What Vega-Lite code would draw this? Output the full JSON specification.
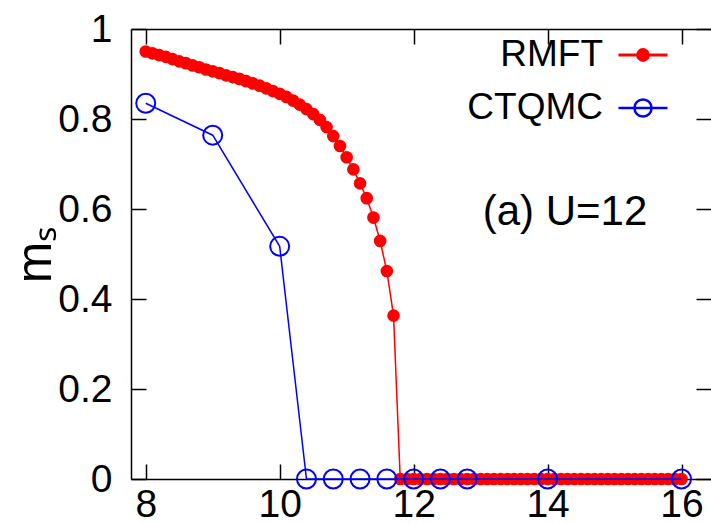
{
  "$schema": "https://vega.github.io/schema/vega-lite/v6.json",
  "width": 580,
  "height": 450,
  "autosize": {"type": "none"},
  "padding": {"left": 131, "top": 29, "right": 0, "bottom": 44},
  "background": "white",
  "config": {
    "view": {"stroke": null},
    "font": "Liberation Sans",
    "axis": {
      "domainColor": "black",
      "domainWidth": 1.5,
      "tickColor": "black",
      "tickWidth": 1.5,
      "tickSize": -15,
      "grid": false,
      "labelFont": "Liberation Sans",
      "labelFontSize": 39,
      "labelColor": "black",
      "zindex": 1
    }
  },
  "datasets": {
    "d": [
      {"series": "RMFT", "x": 8.0, "ms": 0.950},
      {"series": "RMFT", "x": 8.1, "ms": 0.946},
      {"series": "RMFT", "x": 8.2, "ms": 0.942},
      {"series": "RMFT", "x": 8.3, "ms": 0.938},
      {"series": "RMFT", "x": 8.4, "ms": 0.933},
      {"series": "RMFT", "x": 8.5, "ms": 0.928},
      {"series": "RMFT", "x": 8.6, "ms": 0.924},
      {"series": "RMFT", "x": 8.7, "ms": 0.919},
      {"series": "RMFT", "x": 8.8, "ms": 0.915},
      {"series": "RMFT", "x": 8.9, "ms": 0.910},
      {"series": "RMFT", "x": 9.0, "ms": 0.906},
      {"series": "RMFT", "x": 9.1, "ms": 0.902},
      {"series": "RMFT", "x": 9.2, "ms": 0.897},
      {"series": "RMFT", "x": 9.3, "ms": 0.893},
      {"series": "RMFT", "x": 9.4, "ms": 0.889},
      {"series": "RMFT", "x": 9.5, "ms": 0.884},
      {"series": "RMFT", "x": 9.6, "ms": 0.879},
      {"series": "RMFT", "x": 9.7, "ms": 0.874},
      {"series": "RMFT", "x": 9.8, "ms": 0.868},
      {"series": "RMFT", "x": 9.9, "ms": 0.862},
      {"series": "RMFT", "x": 10.0, "ms": 0.856},
      {"series": "RMFT", "x": 10.1, "ms": 0.849},
      {"series": "RMFT", "x": 10.2, "ms": 0.841},
      {"series": "RMFT", "x": 10.3, "ms": 0.832},
      {"series": "RMFT", "x": 10.4, "ms": 0.822},
      {"series": "RMFT", "x": 10.5, "ms": 0.811},
      {"series": "RMFT", "x": 10.6, "ms": 0.798},
      {"series": "RMFT", "x": 10.7, "ms": 0.782},
      {"series": "RMFT", "x": 10.8, "ms": 0.762},
      {"series": "RMFT", "x": 10.9, "ms": 0.740},
      {"series": "RMFT", "x": 11.0, "ms": 0.715},
      {"series": "RMFT", "x": 11.1, "ms": 0.688},
      {"series": "RMFT", "x": 11.2, "ms": 0.657},
      {"series": "RMFT", "x": 11.3, "ms": 0.624},
      {"series": "RMFT", "x": 11.4, "ms": 0.581},
      {"series": "RMFT", "x": 11.5, "ms": 0.529},
      {"series": "RMFT", "x": 11.6, "ms": 0.462},
      {"series": "RMFT", "x": 11.7, "ms": 0.363},
      {"series": "RMFT", "x": 11.8, "ms": 0},
      {"series": "RMFT", "x": 11.9, "ms": 0},
      {"series": "RMFT", "x": 12.0, "ms": 0},
      {"series": "RMFT", "x": 12.1, "ms": 0},
      {"series": "RMFT", "x": 12.2, "ms": 0},
      {"series": "RMFT", "x": 12.3, "ms": 0},
      {"series": "RMFT", "x": 12.4, "ms": 0},
      {"series": "RMFT", "x": 12.5, "ms": 0},
      {"series": "RMFT", "x": 12.6, "ms": 0},
      {"series": "RMFT", "x": 12.7, "ms": 0},
      {"series": "RMFT", "x": 12.8, "ms": 0},
      {"series": "RMFT", "x": 12.9, "ms": 0},
      {"series": "RMFT", "x": 13.0, "ms": 0},
      {"series": "RMFT", "x": 13.1, "ms": 0},
      {"series": "RMFT", "x": 13.2, "ms": 0},
      {"series": "RMFT", "x": 13.3, "ms": 0},
      {"series": "RMFT", "x": 13.4, "ms": 0},
      {"series": "RMFT", "x": 13.5, "ms": 0},
      {"series": "RMFT", "x": 13.6, "ms": 0},
      {"series": "RMFT", "x": 13.7, "ms": 0},
      {"series": "RMFT", "x": 13.8, "ms": 0},
      {"series": "RMFT", "x": 13.9, "ms": 0},
      {"series": "RMFT", "x": 14.0, "ms": 0},
      {"series": "RMFT", "x": 14.1, "ms": 0},
      {"series": "RMFT", "x": 14.2, "ms": 0},
      {"series": "RMFT", "x": 14.3, "ms": 0},
      {"series": "RMFT", "x": 14.4, "ms": 0},
      {"series": "RMFT", "x": 14.5, "ms": 0},
      {"series": "RMFT", "x": 14.6, "ms": 0},
      {"series": "RMFT", "x": 14.7, "ms": 0},
      {"series": "RMFT", "x": 14.8, "ms": 0},
      {"series": "RMFT", "x": 14.9, "ms": 0},
      {"series": "RMFT", "x": 15.0, "ms": 0},
      {"series": "RMFT", "x": 15.1, "ms": 0},
      {"series": "RMFT", "x": 15.2, "ms": 0},
      {"series": "RMFT", "x": 15.3, "ms": 0},
      {"series": "RMFT", "x": 15.4, "ms": 0},
      {"series": "RMFT", "x": 15.5, "ms": 0},
      {"series": "RMFT", "x": 15.6, "ms": 0},
      {"series": "RMFT", "x": 15.7, "ms": 0},
      {"series": "RMFT", "x": 15.8, "ms": 0},
      {"series": "RMFT", "x": 15.9, "ms": 0},
      {"series": "RMFT", "x": 16.0, "ms": 0},
      {"series": "CTQMC", "x": 8.0, "ms": 0.835},
      {"series": "CTQMC", "x": 9.0, "ms": 0.764},
      {"series": "CTQMC", "x": 10.0, "ms": 0.517},
      {"series": "CTQMC", "x": 10.4, "ms": 0},
      {"series": "CTQMC", "x": 10.8, "ms": 0},
      {"series": "CTQMC", "x": 11.2, "ms": 0},
      {"series": "CTQMC", "x": 11.6, "ms": 0},
      {"series": "CTQMC", "x": 12.0, "ms": 0},
      {"series": "CTQMC", "x": 12.4, "ms": 0},
      {"series": "CTQMC", "x": 12.8, "ms": 0},
      {"series": "CTQMC", "x": 14.0, "ms": 0},
      {"series": "CTQMC", "x": 16.0, "ms": 0}
    ]
  },
  "data": {"name": "d"},
  "layer": [
    {
      "transform": [{"filter": "datum.series === 'RMFT'"}],
      "encoding": {
        "x": {
          "field": "x", "type": "quantitative",
          "scale": {"domain": [7.78, 16.44], "nice": false, "zero": false},
          "axis": {"values": [8, 10, 12, 14, 16], "title": null, "labelPadding": 21, "labelFlush": false}
        },
        "y": {
          "field": "ms", "type": "quantitative",
          "scale": {"domain": [0, 1], "nice": false},
          "axis": {
            "values": [0, 0.2, 0.4, 0.6, 0.8, 1],
            "labelExpr": "format(datum.value, '.1~f')",
            "labelPadding": 34,
            "labelFlush": false,
            "title": "mₛ",
            "titleFont": "Liberation Sans",
            "titleFontSize": 50,
            "titleFontWeight": "normal",
            "titleColor": "black",
            "titlePadding": -3
          }
        },
        "color": {
          "field": "series", "type": "nominal",
          "scale": {"range": ["#ff0000"]},
          "legend": {
            "title": null,
            "orient": "none",
            "legendX": 486,
            "legendY": 0,
            "padding": 0,
            "labelFont": "Liberation Sans",
            "labelFontSize": 37,
            "labelColor": "black",
            "labelAlign": "right",
            "labelOffset": -66,
            "encode": {
              "symbols": {
                "update": {
                  "shape": {"value": "M-1,0L1,0M0.22,0A0.22,0.22,0,1,1,-0.22,0A0.22,0.22,0,1,1,0.22,0Z"},
                  "size": {"value": 2401},
                  "fill": {"value": "#ff0000"},
                  "stroke": {"value": "#ff0000"},
                  "strokeWidth": {"value": 3},
                  "opacity": {"value": 1}
                }
              }
            }
          }
        }
      },
      "layer": [
        {"mark": {"type": "line", "strokeWidth": 1.5}},
        {"mark": {"type": "point", "shape": "circle", "filled": true, "size": 160, "opacity": 1}}
      ]
    },
    {
      "transform": [{"filter": "datum.series === 'CTQMC'"}],
      "encoding": {
        "x": {"field": "x", "type": "quantitative", "scale": {"domain": [7.78, 16.44], "nice": false, "zero": false}, "axis": null},
        "y": {"field": "ms", "type": "quantitative", "scale": {"domain": [0, 1], "nice": false}, "axis": null},
        "color": {
          "field": "series", "type": "nominal",
          "scale": {"range": ["#0000ff"]},
          "legend": {
            "title": null,
            "orient": "none",
            "legendX": 486,
            "legendY": 53,
            "padding": 0,
            "labelFont": "Liberation Sans",
            "labelFontSize": 37,
            "labelColor": "black",
            "labelAlign": "right",
            "labelOffset": -66,
            "encode": {
              "symbols": {
                "update": {
                  "shape": {"value": "M-1,0L1,0M0.35,0A0.35,0.35,0,1,1,-0.35,0A0.35,0.35,0,1,1,0.35,0Z"},
                  "size": {"value": 2401},
                  "fill": {"value": "transparent"},
                  "stroke": {"value": "#0000ff"},
                  "strokeWidth": {"value": 2.5},
                  "opacity": {"value": 1}
                }
              }
            }
          }
        }
      },
      "layer": [
        {"mark": {"type": "line", "strokeWidth": 1.5}},
        {"mark": {"type": "point", "shape": "circle", "filled": false, "fill": "transparent", "size": 361, "strokeWidth": 2, "opacity": 1}}
      ]
    },
    {
      "data": {"values": [{"label": "(a) U=12"}]},
      "mark": {"type": "text", "font": "Liberation Sans", "fontSize": 42, "color": "black", "align": "center", "baseline": "middle"},
      "encoding": {
        "x": {"datum": 14.26, "type": "quantitative", "scale": {"domain": [7.78, 16.44], "nice": false, "zero": false}, "axis": null},
        "y": {"datum": 0.593, "type": "quantitative", "scale": {"domain": [0, 1], "nice": false}, "axis": null},
        "text": {"field": "label", "type": "nominal"}
      }
    },
    {
      "mark": {"type": "point", "opacity": 0},
      "encoding": {
        "x": {"field": "x", "type": "quantitative", "scale": {"domain": [7.78, 16.44], "nice": false, "zero": false},
              "axis": {"orient": "top", "values": [8, 10, 12, 14, 16], "labels": false, "title": null, "domain": true}},
        "y": {"field": "ms", "type": "quantitative", "scale": {"domain": [0, 1], "nice": false},
              "axis": {"orient": "right", "values": [0, 0.2, 0.4, 0.6, 0.8, 1], "labels": false, "title": null, "domain": false}}
      }
    }
  ],
  "resolve": {
    "scale": {"color": "independent"},
    "axis": {"x": "independent", "y": "independent"}
  }
}
